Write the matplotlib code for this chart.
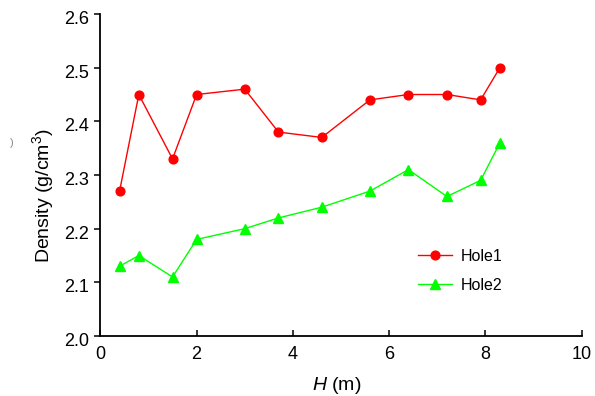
import matplotlib
matplotlib.use("Agg")
import matplotlib.pyplot as plt
from matplotlib.transforms import ScaledTranslation

plt.rcParams['font.family'] = ['Liberation Sans', 'DejaVu Sans']
plt.rcParams['mathtext.fontset'] = 'custom'
plt.rcParams['mathtext.rm'] = 'Liberation Sans'
plt.rcParams['mathtext.it'] = 'Liberation Sans:italic'

H = [0.4, 0.8, 1.5, 2.0, 3.0, 3.7, 4.6, 5.6, 6.4, 7.2, 7.9, 8.3]
hole1 = [2.27, 2.45, 2.33, 2.45, 2.46, 2.38, 2.37, 2.44, 2.45, 2.45, 2.44, 2.50]
hole2 = [2.13, 2.15, 2.11, 2.18, 2.20, 2.22, 2.24, 2.27, 2.31, 2.26, 2.29, 2.36]
xticks = [0, 2, 4, 6, 8, 10]
yticks = [2.0, 2.1, 2.2, 2.3, 2.4, 2.5, 2.6]

fig = plt.figure(figsize=(5.95, 3.96), dpi=100)
ax = fig.add_axes([0.1686, 0.1515, 0.8091, 0.8131])

ax.plot(H, hole1, color='#FF0000', marker='o', markersize=6.3, lw=1.0, label='Hole1')
ax.plot(H, hole2, color='#00FF00', marker='^', markersize=6.5, lw=1.0, label='Hole2')

ax.set_xlim(0, 10)
ax.set_ylim(2.0, 2.6)
ax.set_xticks(xticks)
ax.set_yticks(yticks)
ax.set_xticklabels([str(v) for v in xticks])
ax.set_yticklabels([f"{v:.1f}" for v in yticks])
for s in ['top', 'right']:
    ax.spines[s].set_visible(False)
for s in ['left', 'bottom']:
    ax.spines[s].set_linewidth(1.3)
ax.tick_params(axis='x', direction='in', length=4, width=1.1, labelsize=13, pad=7)
ax.tick_params(axis='y', direction='out', length=4, width=1.1, labelsize=13, pad=4)

shift = ScaledTranslation(0, -0.035, fig.dpi_scale_trans)
for lbl in ax.get_yticklabels():
    lbl.set_transform(lbl.get_transform() + shift)

fig.text(337 / 595, 1 - 385 / 396, '$H$ (m)', fontsize=14, ha='center', va='center')
fig.text(43 / 595, 1 - 196 / 396, 'Density (g/cm$^3$)', fontsize=14, rotation=90,
         ha='center', va='center')

leg = ax.legend(loc='upper left', bbox_to_anchor=(0.63, 0.315), frameon=False,
                fontsize=11.5, handlelength=2.1, labelspacing=0.85, handletextpad=0.6)

fig.text(12 / 595, 1 - 143 / 396, ')', fontsize=8, color='#888888', ha='center', va='center')

fig.savefig('out.png', dpi=100)
